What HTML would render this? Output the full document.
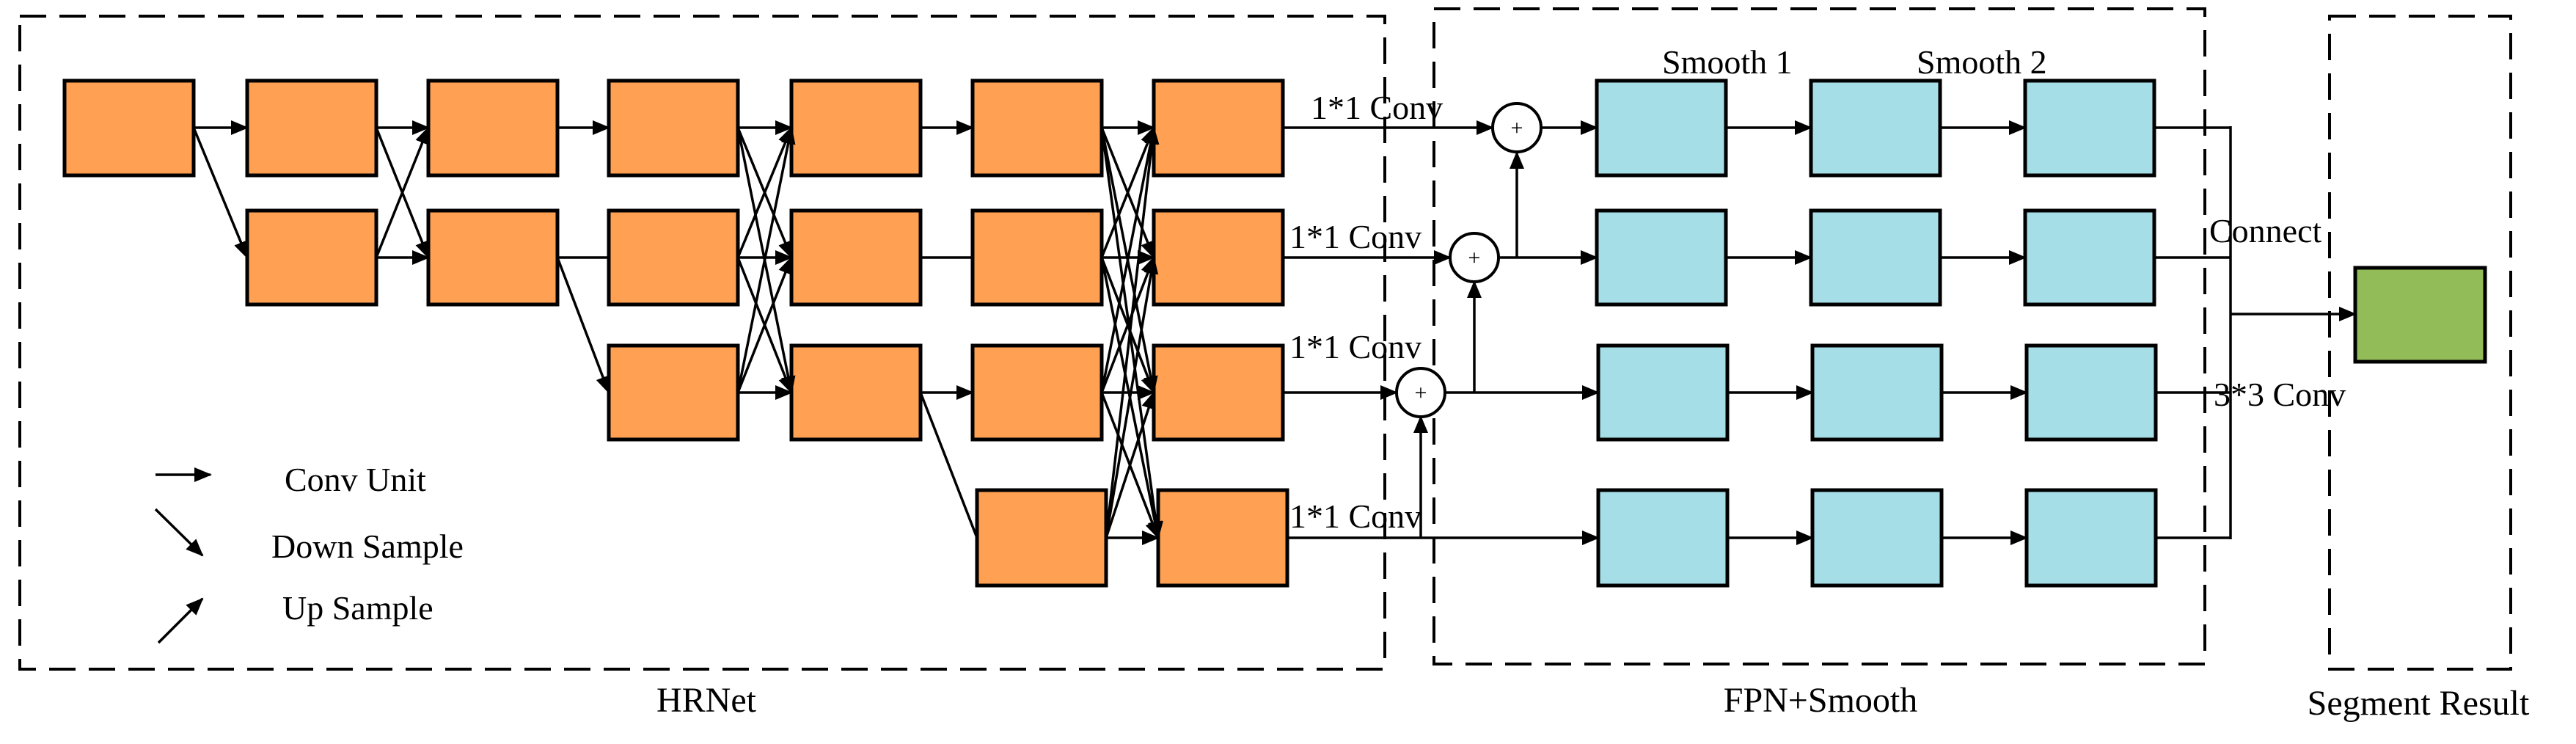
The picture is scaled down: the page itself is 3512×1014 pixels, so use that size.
<!DOCTYPE html>
<html><head><meta charset="utf-8"><style>
html,body{margin:0;padding:0;background:#fff;}
svg{display:block;}
text{font-family:"Liberation Serif",serif;fill:#000;}
</style></head><body>
<svg width="3512" height="1014" viewBox="0 0 3512 1014" xmlns="http://www.w3.org/2000/svg">
<defs>
<marker id="a" markerUnits="userSpaceOnUse" markerWidth="24" markerHeight="20" refX="22" refY="10" orient="auto">
<path d="M0,0 L24,10 L0,20 z" fill="#000"/>
</marker>
</defs>
<g fill="none" stroke="#000" stroke-width="4" stroke-dasharray="36,18">
<rect x="27" y="22" width="1861" height="890"/>
<rect x="1955" y="12" width="1051" height="893"/>
<rect x="3176" y="22" width="247" height="890"/>
</g>
<g fill="#FFA052" stroke="#000" stroke-width="5">
<rect x="88" y="110" width="176" height="129"/>
<rect x="337" y="110" width="176" height="129"/><rect x="337" y="287" width="176" height="128"/>
<rect x="584" y="110" width="176" height="129"/><rect x="584" y="287" width="176" height="128"/>
<rect x="830" y="110" width="176" height="129"/><rect x="830" y="287" width="176" height="128"/><rect x="830" y="471" width="176" height="128"/>
<rect x="1079" y="110" width="176" height="129"/><rect x="1079" y="287" width="176" height="128"/><rect x="1079" y="471" width="176" height="128"/>
<rect x="1326" y="110" width="176" height="129"/><rect x="1326" y="287" width="176" height="128"/><rect x="1326" y="471" width="176" height="128"/><rect x="1332" y="668" width="176" height="130"/>
<rect x="1573" y="110" width="176" height="129"/><rect x="1573" y="287" width="176" height="128"/><rect x="1573" y="471" width="176" height="128"/><rect x="1579" y="668" width="176" height="130"/>
</g>
<g fill="#A6DEE8" stroke="#000" stroke-width="5">
<rect x="2177" y="110" width="176" height="129"/><rect x="2469" y="110" width="176" height="129"/><rect x="2761" y="110" width="176" height="129"/>
<rect x="2177" y="287" width="176" height="128"/><rect x="2469" y="287" width="176" height="128"/><rect x="2761" y="287" width="176" height="128"/>
<rect x="2179" y="471" width="176" height="128"/><rect x="2471" y="471" width="176" height="128"/><rect x="2763" y="471" width="176" height="128"/>
<rect x="2179" y="668" width="176" height="130"/><rect x="2471" y="668" width="176" height="130"/><rect x="2763" y="668" width="176" height="130"/>
</g>
<rect x="3211" y="365" width="177" height="128" fill="#92BC58" stroke="#000" stroke-width="5"/>
<g stroke="#000" stroke-width="3.5" fill="none" marker-end="url(#a)">
<line x1="264" y1="174" x2="337" y2="174"/><line x1="264" y1="174" x2="337" y2="351"/>
<line x1="513" y1="174" x2="584" y2="174"/><line x1="513" y1="351" x2="584" y2="351"/><line x1="513" y1="174" x2="584" y2="351"/><line x1="513" y1="351" x2="584" y2="174"/>
<line x1="760" y1="174" x2="830" y2="174"/><line x1="760" y1="351" x2="830" y2="535"/>
<line x1="1006" y1="174" x2="1079" y2="174"/><line x1="1006" y1="174" x2="1079" y2="351"/><line x1="1006" y1="174" x2="1079" y2="535"/>
<line x1="1006" y1="351" x2="1079" y2="174"/><line x1="1006" y1="351" x2="1079" y2="351"/><line x1="1006" y1="351" x2="1079" y2="535"/>
<line x1="1006" y1="535" x2="1079" y2="174"/><line x1="1006" y1="535" x2="1079" y2="351"/><line x1="1006" y1="535" x2="1079" y2="535"/>
<line x1="1255" y1="174" x2="1326" y2="174"/><line x1="1255" y1="535" x2="1326" y2="535"/>
<line x1="1502" y1="174" x2="1573" y2="174"/><line x1="1502" y1="174" x2="1573" y2="351"/><line x1="1502" y1="174" x2="1573" y2="535"/><line x1="1502" y1="174" x2="1579" y2="733"/>
<line x1="1502" y1="351" x2="1573" y2="174"/><line x1="1502" y1="351" x2="1573" y2="351"/><line x1="1502" y1="351" x2="1573" y2="535"/><line x1="1502" y1="351" x2="1579" y2="733"/>
<line x1="1502" y1="535" x2="1573" y2="174"/><line x1="1502" y1="535" x2="1573" y2="351"/><line x1="1502" y1="535" x2="1573" y2="535"/><line x1="1502" y1="535" x2="1579" y2="733"/>
<line x1="1508" y1="733" x2="1573" y2="174"/><line x1="1508" y1="733" x2="1573" y2="351"/><line x1="1508" y1="733" x2="1573" y2="535"/><line x1="1508" y1="733" x2="1579" y2="733"/>
<line x1="1749" y1="174" x2="2035" y2="174"/><line x1="2101" y1="174" x2="2177" y2="174"/>
<line x1="1749" y1="351" x2="1977" y2="351"/><line x1="2043" y1="351" x2="2177" y2="351"/>
<line x1="1749" y1="535" x2="1904" y2="535"/><line x1="1970" y1="535" x2="2179" y2="535"/>
<line x1="1755" y1="733" x2="2179" y2="733"/>
<line x1="2068" y1="351" x2="2068" y2="208"/><line x1="2010" y1="535" x2="2010" y2="384"/><line x1="1937" y1="733" x2="1937" y2="568"/>
<line x1="2353" y1="174" x2="2469" y2="174"/><line x1="2645" y1="174" x2="2761" y2="174"/>
<line x1="2353" y1="351" x2="2469" y2="351"/><line x1="2645" y1="351" x2="2761" y2="351"/>
<line x1="2355" y1="535" x2="2471" y2="535"/><line x1="2647" y1="535" x2="2763" y2="535"/>
<line x1="2355" y1="733" x2="2471" y2="733"/><line x1="2647" y1="733" x2="2763" y2="733"/>
<line x1="3041" y1="428" x2="3211" y2="428"/>
<line x1="212" y1="647" x2="287" y2="647"/><line x1="212" y1="694" x2="276" y2="757"/><line x1="216" y1="876" x2="276" y2="816"/>
</g>
<g stroke="#000" stroke-width="3.5" fill="none">
<line x1="760" y1="351" x2="830" y2="351"/><line x1="1255" y1="351" x2="1326" y2="351"/><line x1="1255" y1="535" x2="1332" y2="733"/>
<line x1="2937" y1="174" x2="3041" y2="174"/><line x1="2937" y1="351" x2="3041" y2="351"/><line x1="2939" y1="535" x2="3041" y2="535"/><line x1="2939" y1="733" x2="3041" y2="733"/>
<line x1="3041" y1="172" x2="3041" y2="735"/>
</g>
<g fill="#fff" stroke="#000" stroke-width="4">
<circle cx="2068" cy="174" r="33"/><circle cx="2010" cy="351" r="33"/><circle cx="1937" cy="535" r="33"/>
</g>
<g font-size="30" text-anchor="middle">
<text x="2068" y="184">+</text><text x="2010" y="361">+</text><text x="1937" y="545">+</text>
</g>
<g font-size="46">
<text x="1787" y="162">1*1 Conv</text>
<text x="1758" y="338">1*1 Conv</text>
<text x="1758" y="488">1*1 Conv</text>
<text x="1758" y="719">1*1 Conv</text>
<text x="2266" y="100">Smooth 1</text>
<text x="2613" y="100">Smooth 2</text>
<text x="3012" y="330">Connect</text>
<text x="3018" y="553">3*3 Conv</text>
<text x="388" y="669">Conv Unit</text>
<text x="370" y="760">Down Sample</text>
<text x="385" y="844">Up Sample</text>
</g>
<g font-size="48" text-anchor="middle">
<text x="963" y="970">HRNet</text>
<text x="2482" y="970">FPN+Smooth</text>
<text x="3297" y="974">Segment Result</text>
</g>
</svg>
</body></html>
